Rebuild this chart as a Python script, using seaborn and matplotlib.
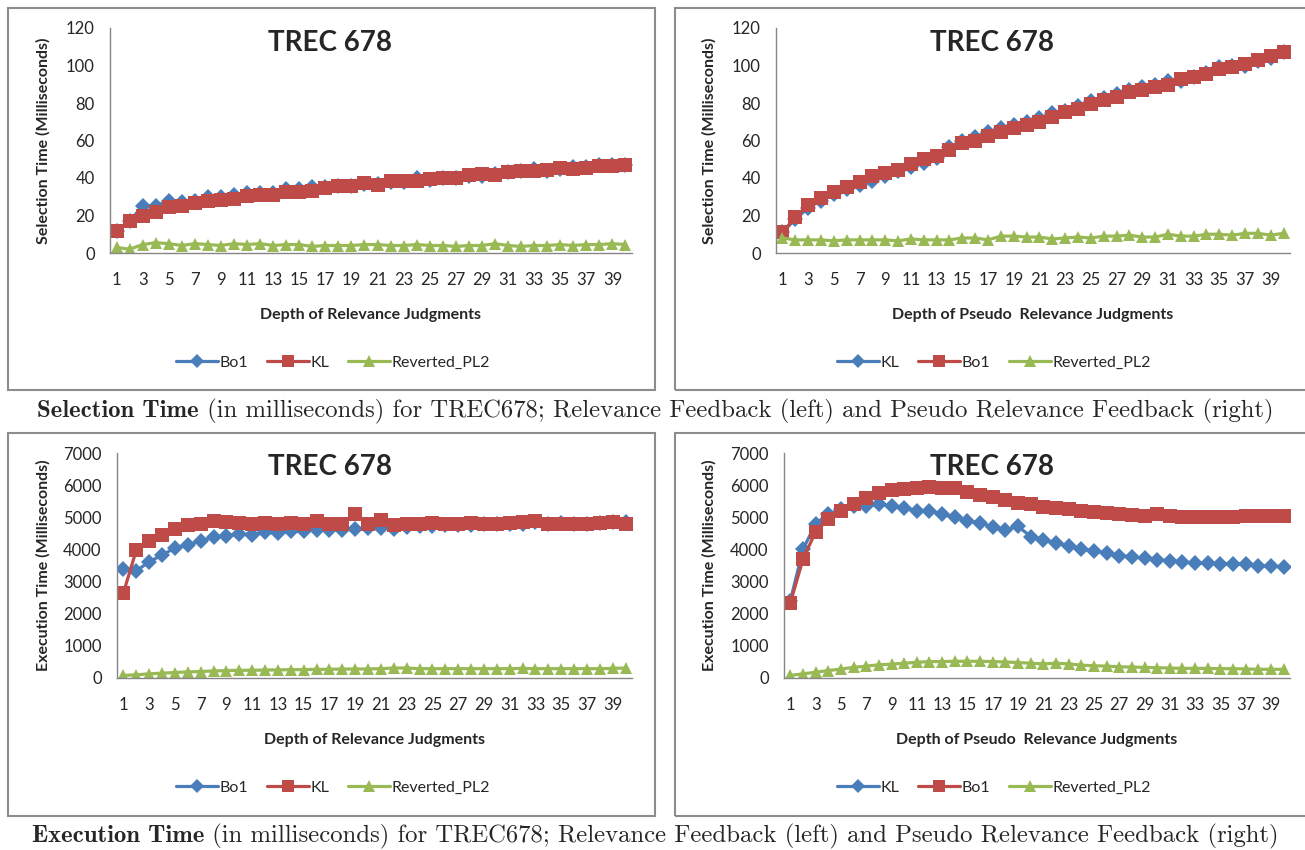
import numpy as np
import pandas as pd
import matplotlib.pyplot as plt
import matplotlib.patches as patches
import seaborn as sns

# depth of judgments (category axis)
depth = list(range(1, 41))
xtick_labels = [str(i) for i in range(1, 41, 2)]

# Selection time, relevance feedback (top left)
sel_rf_bo1 = [12, 17, 25, 25, 28, 27, 28, 30, 30, 31, 32, 32, 32, 34, 34, 35, 35, 36, 36, 37,
              37, 38, 38, 40, 39, 40, 40, 41, 41, 42, 43, 44, 45, 44, 45, 46, 46, 47, 47, 47]
sel_rf_kl = [12, 17, 20, 22, 24.5, 25, 26.5, 27.5, 28.5, 29, 30.5, 31, 31, 32.5, 32.5, 33, 34.5, 35.5, 35.5, 37.5,
             36.5, 38.5, 38.5, 38.5, 39.5, 40, 40, 41.5, 42, 41.5, 43, 44, 44, 44.5, 45.5, 45, 45.5, 46.5, 46.5, 47]
sel_rf_pl2 = [3, 2, 4.5, 5.5, 5, 4, 5, 4.5, 4, 5, 4.5, 5, 4, 4.5, 4.5, 3.5, 4, 4, 4, 4.5,
              4.5, 4, 4, 4.5, 4, 4, 3.5, 4, 4, 5, 4, 3.5, 4, 4, 4.5, 4, 4.5, 4.5, 5, 4.5]

# Selection time, pseudo relevance feedback (top right)
sel_prf_kl = [11, 18, 24, 28, 31.5, 34, 36.5, 38.5, 41, 43.5, 46, 48, 50.5, 56.5, 60, 62, 64.5, 66.5, 68.5, 70,
              72, 74.5, 76, 78.5, 81, 82.5, 85, 87, 88.5, 89.5, 91.5, 92, 94, 96, 99, 99.5, 99.5, 102.5, 104, 107]
sel_prf_bo1 = [11, 19, 25.5, 29.5, 32.5, 35, 38, 41, 42.5, 44.5, 47.5, 50, 52, 55, 58.5, 60, 62.5, 64.5, 66.5, 68.5,
               70, 72.5, 75, 77, 79.5, 81.5, 83, 86, 87, 88.5, 89.5, 93, 94, 95.5, 98, 99, 101, 103, 105, 107]
sel_prf_pl2 = [8, 7, 7, 7, 6.5, 7, 7, 7, 7, 6.5, 7.5, 7, 7, 7, 8, 8, 7, 9, 9, 8.5,
               8.5, 7.5, 8, 8.5, 8, 9, 9, 9.5, 8.5, 8.5, 10, 9, 9, 10, 10, 9.5, 10.5, 10.5, 9.5, 10.5]

# Execution time, relevance feedback (bottom left)
exe_rf_bo1 = [3380, 3330, 3620, 3820, 4050, 4150, 4270, 4380, 4420, 4480, 4460, 4530, 4500, 4560, 4560, 4620, 4600, 4620, 4640, 4680,
              4670, 4650, 4700, 4720, 4740, 4760, 4760, 4760, 4780, 4780, 4800, 4800, 4840, 4800, 4820, 4800, 4800, 4820, 4840, 4850]
exe_rf_kl = [2650, 3980, 4250, 4450, 4650, 4750, 4800, 4900, 4850, 4830, 4780, 4820, 4780, 4830, 4800, 4900, 4800, 4800, 5100, 4800,
             4930, 4750, 4800, 4800, 4830, 4800, 4780, 4820, 4800, 4800, 4820, 4850, 4900, 4800, 4800, 4780, 4780, 4820, 4850, 4800]
exe_rf_pl2 = [80, 100, 130, 150, 170, 190, 200, 220, 230, 240, 240, 250, 250, 260, 260, 270, 270, 280, 280, 280,
              290, 310, 310, 290, 290, 290, 290, 290, 290, 290, 290, 300, 290, 290, 290, 290, 290, 290, 300, 310]

# Execution time, pseudo relevance feedback (bottom right)
exe_prf_kl = [2400, 4000, 4800, 5100, 5250, 5350, 5350, 5400, 5350, 5300, 5200, 5200, 5100, 5000, 4900, 4820, 4700, 4600, 4720, 4400,
              4300, 4200, 4100, 4020, 3950, 3900, 3800, 3780, 3720, 3680, 3650, 3600, 3580, 3570, 3560, 3560, 3540, 3480, 3480, 3460]
exe_prf_bo1 = [2330, 3700, 4550, 4950, 5200, 5400, 5600, 5750, 5850, 5880, 5900, 5950, 5900, 5900, 5800, 5700, 5620, 5550, 5450, 5400,
               5330, 5300, 5250, 5200, 5150, 5130, 5100, 5070, 5050, 5100, 5030, 5020, 5000, 5000, 5000, 5020, 5030, 5030, 5030, 5050]
exe_prf_pl2 = [80, 130, 180, 230, 280, 330, 370, 410, 430, 460, 490, 510, 510, 520, 520, 520, 510, 500, 480, 460,
               440, 460, 440, 400, 380, 370, 350, 340, 330, 320, 310, 300, 300, 300, 290, 290, 280, 270, 270, 270]

sns.set_style("white")
plt.rcParams['font.family'] = ['Lato', 'DejaVu Sans']

W, H = 1305, 850
fig = plt.figure(figsize=(W / 100, H / 100), dpi=100)

BLUE = '#4a7ebb'
RED = '#be4b48'
GREEN = '#98b954'


def fx(px):
    return px / W


def fy(py):
    return 1 - py / H


# panel setup: frame box, axes box, data, labels
panels = [
    dict(frame=(8, 8, 655, 390), axes=(110, 28, 632, 253), ymax=120, ystep=20,
         series=[('Bo1', sel_rf_bo1, BLUE, 'D'), ('KL', sel_rf_kl, RED, 's'), ('Reverted_PL2', sel_rf_pl2, GREEN, '^')],
         ylabel='Selection Time (Milliseconds)', xlabel='Depth of Relevance Judgments',
         ylab_x=43, xlab_y=315, leg=(333, 363), title=(330, 43)),
    dict(frame=(675, 8, 1320, 390), axes=(776, 28, 1290, 253), ymax=120, ystep=20,
         series=[('KL', sel_prf_kl, BLUE, 'D'), ('Bo1', sel_prf_bo1, RED, 's'), ('Reverted_PL2', sel_prf_pl2, GREEN, '^')],
         ylabel='Selection Time (Milliseconds)', xlabel='Depth of Pseudo  Relevance Judgments',
         ylab_x=709, xlab_y=315, leg=(994, 363), title=(992, 43)),
    dict(frame=(8, 433, 655, 816), axes=(117, 453, 632, 678), ymax=7000, ystep=1000,
         series=[('Bo1', exe_rf_bo1, BLUE, 'D'), ('KL', exe_rf_kl, RED, 's'), ('Reverted_PL2', exe_rf_pl2, GREEN, '^')],
         ylabel='Execution Time (Milliseconds)', xlabel='Depth of Relevance Judgments',
         ylab_x=43, xlab_y=740, leg=(333, 788), title=(330, 467)),
    dict(frame=(675, 433, 1320, 816), axes=(784, 453, 1290, 678), ymax=7000, ystep=1000,
         series=[('KL', exe_prf_kl, BLUE, 'D'), ('Bo1', exe_prf_bo1, RED, 's'), ('Reverted_PL2', exe_prf_pl2, GREEN, '^')],
         ylabel='Execution Time (Milliseconds)', xlabel='Depth of Pseudo  Relevance Judgments',
         ylab_x=709, xlab_y=740, leg=(994, 788), title=(992, 467)),
]

msize = {'D': 8, 's': 9.5, '^': 9}

for p in panels:
    l, t, r, b = p['frame']
    fig.add_artist(patches.Rectangle((fx(l), fy(b)), fx(r) - fx(l), fy(t) - fy(b), transform=fig.transFigure,
                                     fill=False, edgecolor='#8c8c8c', linewidth=1.5))
    al, at, ar, ab = p['axes']
    ax = fig.add_axes([fx(al), fy(ab), fx(ar) - fx(al), fy(at) - fy(ab)])
    ax.patch.set_alpha(0)

    for name, vals, col, mk in p['series']:
        df = pd.DataFrame({'depth': depth, 'time': vals})
        sns.lineplot(data=df, x='depth', y='time', ax=ax, color=col, linewidth=2.3,
                     marker=mk, markersize=msize[mk], markeredgewidth=0, label=name, legend=False)

    ax.set_xlim(0.5, 40.5)
    ax.set_ylim(0, p['ymax'])
    ax.set_xticks(range(1, 41, 2))
    ax.set_xticklabels(xtick_labels)
    ax.set_yticks(np.arange(0, p['ymax'] + 1, p['ystep']))
    ax.tick_params(axis='x', length=0, pad=14, labelsize=12)
    ax.tick_params(axis='y', length=0, pad=11, labelsize=12)
    ax.set_xlabel('')
    ax.set_ylabel('')
    for s in ['top', 'right']:
        ax.spines[s].set_visible(False)
    for s in ['left', 'bottom']:
        ax.spines[s].set_color('#868686')
        ax.spines[s].set_linewidth(1)

    fig.text(fx(p['ylab_x']), fy((at + ab) / 2), p['ylabel'], rotation=90, ha='center', va='center',
             fontsize=11.5, fontweight='bold')
    fig.text(fx((al + ar) / 2), fy(p['xlab_y']), p['xlabel'], ha='center', va='center',
             fontsize=11.5, fontweight='bold')
    fig.text(fx(p['title'][0]), fy(p['title'][1]), 'TREC 678', ha='center', va='center',
             fontsize=20, fontweight='bold')

    handles, labels = ax.get_legend_handles_labels()
    fig.legend(handles, labels, loc='center', bbox_to_anchor=(fx(p['leg'][0]), fy(p['leg'][1])),
               ncol=3, frameon=False, fontsize=11.5, handlelength=2.6, handletextpad=0.1,
               columnspacing=1.2, borderaxespad=0, markerscale=0.9)

# captions under each row: bold lead words followed by the regular text
captions = [
    ('Selection Time', ' (in milliseconds) for TREC678; Relevance Feedback (left) and Pseudo Relevance Feedback (right)', 411),
    ('Execution Time', ' (in milliseconds) for TREC678; Relevance Feedback (left) and Pseudo Relevance Feedback (right)', 836),
]
renderer = fig.canvas.get_renderer()
for bold, rest, ypix in captions:
    t1 = fig.text(0, fy(ypix), bold, family='cmb10', fontsize=17.8, ha='left', va='center')
    t2 = fig.text(0, fy(ypix), rest, family='cmr10', fontsize=17.8, ha='left', va='center')
    w1 = t1.get_window_extent(renderer).width
    w2 = t2.get_window_extent(renderer).width
    x0 = 655 - (w1 + w2) / 2
    t1.set_x(fx(x0))
    t2.set_x(fx(x0 + w1))

fig.savefig('out.png', dpi=100)
